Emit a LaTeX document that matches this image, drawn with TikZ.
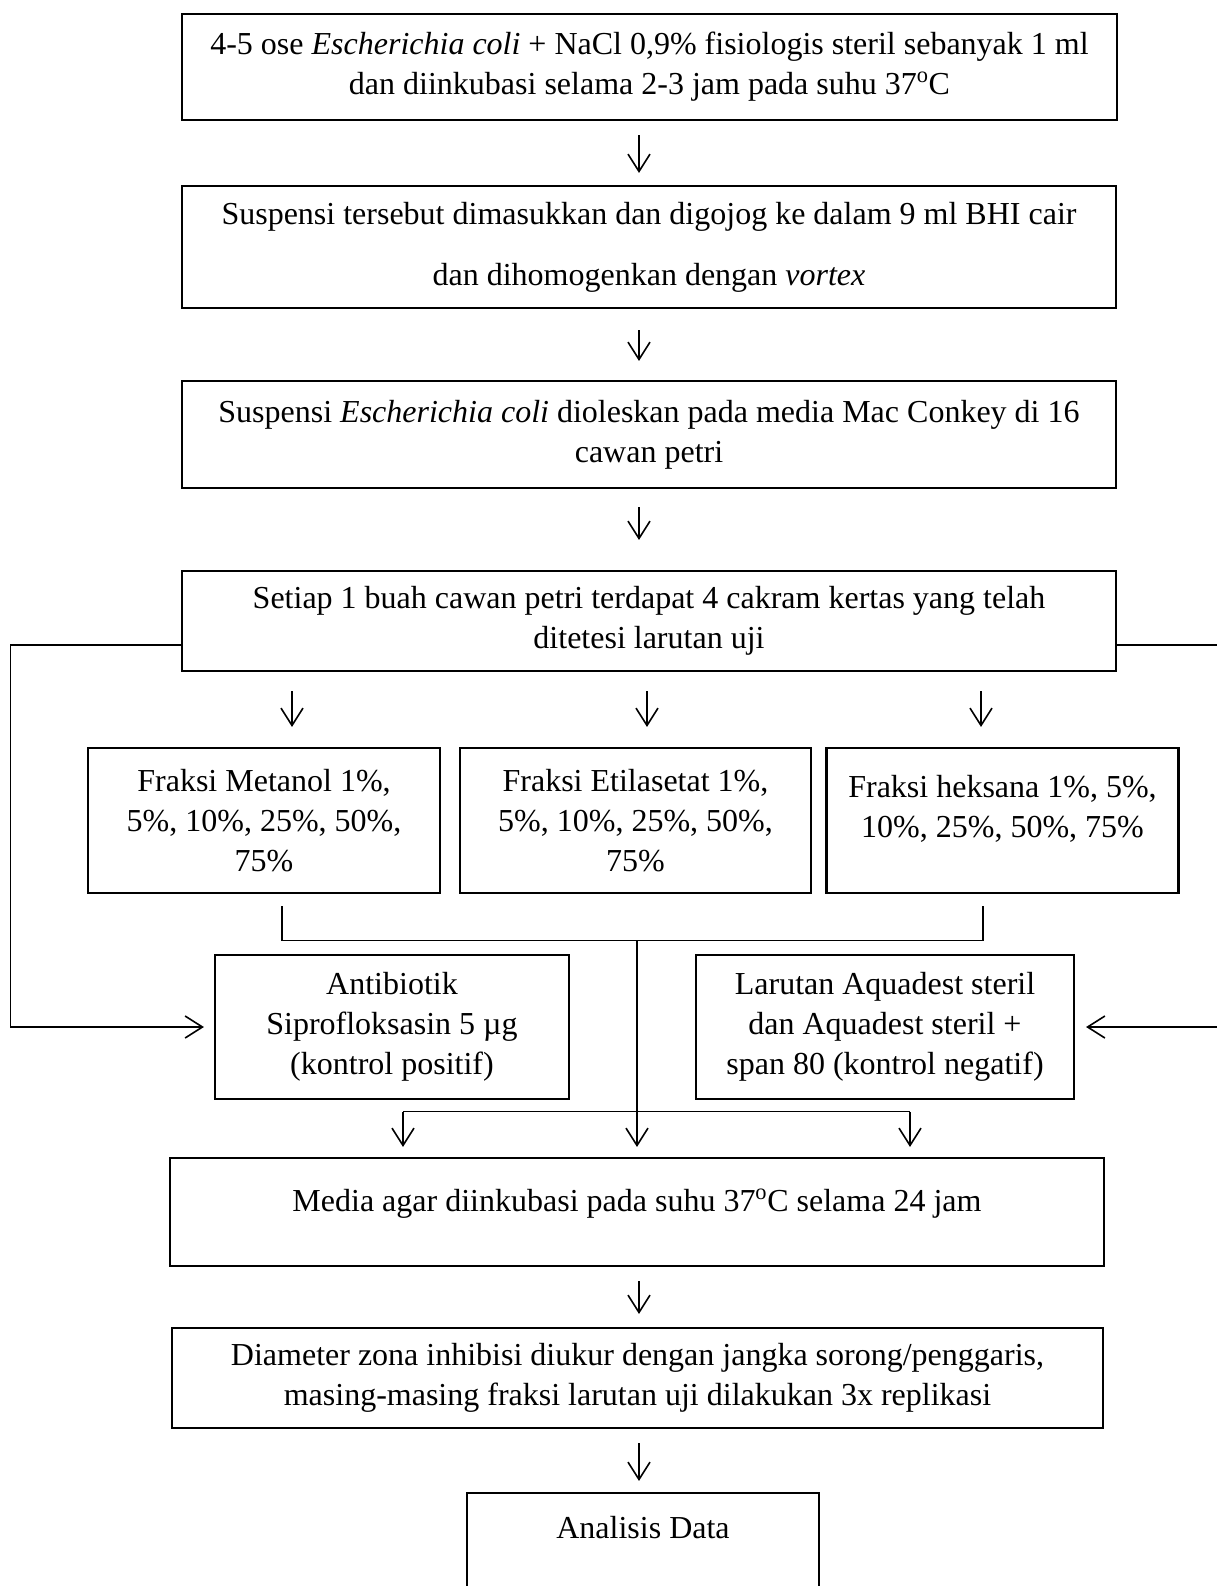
\documentclass[tikz,border=0pt]{standalone}
\usepackage{fontspec}
\setmainfont{Liberation Serif}
\usetikzlibrary{arrows.meta,calc}
\begin{document}
\begin{tikzpicture}[x=0.75pt,y=-0.75pt,
 box/.style={draw,line width=1.6pt,rectangle,inner sep=0pt,align=center,font=\fontsize{24pt}{30pt}\selectfont},
 sz/.style 2 args={minimum width=#1*0.75pt,minimum height=#2*0.75pt},
 arr/.style={line width=1.2pt,-{Straight Barb[length=13pt,width=16.5pt,line width=1.2pt]}},
 ln/.style={line width=0.8pt},
 lnarr/.style={line width=0.8pt,-{Straight Barb[length=13pt,width=16.5pt,line width=1.2pt]}}]
\useasboundingbox (0,0) rectangle (1217,1586);
\clip (0,0) rectangle (1217,1586);

\node[box,sz={935}{106}] (b1) at (649.5,67) {4-5 ose \textit{Escherichia coli} + NaCl 0,9\% fisiologis steril sebanyak 1 ml\\dan diinkubasi selama 2-3 jam pada suhu 37\textsuperscript{o}C};
\node[box,sz={934}{122}] (b2) at (649,247) {Suspensi tersebut dimasukkan dan digojog ke dalam 9 ml BHI cair\\[15.75pt]dan dihomogenkan dengan \textit{vortex}};
\node[box,sz={934}{107}] (b3) at (649,434.5) {Suspensi \textit{Escherichia coli} dioleskan pada media Mac Conkey di 16\\cawan petri};
\node[box,sz={934}{100}] (b4) at (649,621) {Setiap 1 buah cawan petri terdapat 4 cakram kertas yang telah\\ditetesi larutan uji};

\node[box,sz={352}{145}] (f1) at (264,820.5) {Fraksi Metanol 1\%,\\5\%, 10\%, 25\%, 50\%,\\75\%};
\node[box,sz={351}{145}] (f2) at (635.5,820.5) {Fraksi Etilasetat 1\%,\\5\%, 10\%, 25\%, 50\%,\\75\%};
\node[box,sz={352}{145}] (f3) at (1002.5,820.5) {Fraksi heksana 1\%, 5\%,\\10\%, 25\%, 50\%, 75\%\\[-18pt]\strut};

\node[box,sz={354}{144}] (k1) at (392,1027) {Antibiotik\\Siprofloksasin 5 µg\\(kontrol positif)};
\node[box,sz={378}{144}] (k2) at (885,1027) {Larutan Aquadest steril\\dan Aquadest steril +\\span 80 (kontrol negatif)};

\node[box,sz={934}{108}] (m) at (637,1212) {Media agar diinkubasi pada suhu 37\textsuperscript{o}C selama 24 jam\\[-22pt]\strut};
\node[box,sz={931}{100}] (d) at (637.5,1378) {Diameter zona inhibisi diukur dengan jangka sorong/penggaris,\\masing-masing fraksi larutan uji dilakukan 3x replikasi};
\node[box,sz={352}{120}] (z) at (643,1553) {Analisis Data\\\strut};

% main vertical arrows
\draw[arr] ($(b1.south)+(-10.5,14)$) -- ($(b2.north)+(-10,-12)$);
\draw[arr] ($(b2.south)+(-10,21)$) -- ($(b3.north)+(-10,-19)$);
\draw[arr] ($(b3.south)+(-10,18)$) -- ($(b4.north)+(-10,-30)$);

% arrows to fractions
\draw[arr] ($(b4.south -| f1.north)+(28,19)$) -- ($(f1.north)+(28,-20)$);
\draw[arr] ($(b4.south -| f2.north)+(11.5,19)$) -- ($(f2.north)+(11.5,-20)$);
\draw[arr] ($(b4.south -| f3.north)+(-21.5,19)$) -- ($(f3.north)+(-21.5,-20)$);

% bracket under fractions
\draw[ln] ($(f1.south)+(18,12)$) -- ++(0,34) -| ($(f3.south)+(-19.5,12)$);
\coordinate (br) at ($(f2.south)+(1.5,46)$);
\coordinate (hub) at ($(m.north)+(0,-45)$);
\draw[ln] (br) -- (hub);
\draw[ln] ($(m.north)+(-234,-45)$) -- ($(m.north)+(273,-45)$);
\draw[arr] ($(m.north)+(-234,-45)$) -- ($(m.north)+(-234,-10)$);
\draw[arr] (hub) -- ($(m.north)+(0,-10)$);
\draw[arr] ($(m.north)+(273,-45)$) -- ($(m.north)+(273,-10)$);

% side loops to controls
\draw[lnarr] ($(b4.west)+(0,24)$) -- ++(-170,0) |- ($(k1.west)+(-10,0)$);
\draw[lnarr] ($(b4.east)+(0,24)$) -- ++(110,0) |- ($(k2.east)+(11,0)$);

% lower arrows
\draw[arr] ($(m.south)+(2,14)$) -- ($(d.north)+(1.5,-13)$);
\draw[arr] ($(d.south)+(1.5,14)$) -- ($(z.north)+(-4,-11)$);
\end{tikzpicture}
\end{document}
